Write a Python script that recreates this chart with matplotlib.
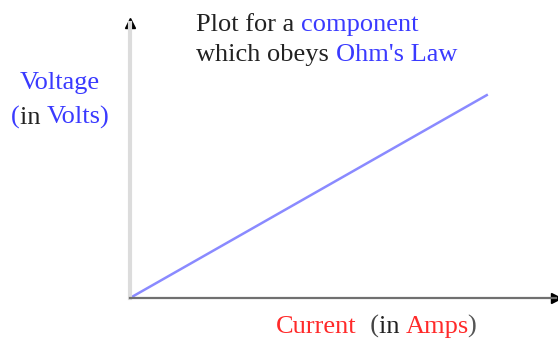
import matplotlib
matplotlib.use("Agg")
import matplotlib.pyplot as plt

# Data (arbitrary units: current vs voltage, straight line through origin)
current = [0.0, 8.4]
voltage = [0.0, 7.4]

title_line1 = [("Plot for a ", "#222222"), ("component", "#3a3aff")]
title_line2 = [("which obeys ", "#222222"), ("Ohm's Law", "#3a3aff")]
ylabel_line1 = [("Voltage", "#3a3aff")]
ylabel_line2 = [("(", "#3a3aff"), ("in ", "#222222"), ("Volts)", "#3a3aff")]
xlabel_parts = [("Current", "#ff2a2a"), ("  (", "#444444"), ("in ", "#222222"),
                ("Amps", "#ff2a2a"), (")", "#555555")]

W, H = 558, 340
fig = plt.figure(figsize=(W / 100, H / 100), dpi=100)
fig.patch.set_facecolor("white")

# axes placed in pixel geometry
x0, x1 = 130, 556
ytop, ybot = 23, 298
ax = fig.add_axes([x0 / W, 1 - ybot / H, (x1 - x0) / W, (ybot - ytop) / H])
ax.set_xlim(0, 10)
ax.set_ylim(0, 10)
ax.set_xticks([])
ax.set_yticks([])
for s in ["top", "right"]:
    ax.spines[s].set_visible(False)
ax.spines["left"].set_color("#dcdcdc")
ax.spines["left"].set_linewidth(3)
ax.spines["bottom"].set_color("#707070")
ax.spines["bottom"].set_linewidth(1.6)
ax.patch.set_alpha(0)

ax.plot(current, voltage, color="#8a8aff", lw=1.8, solid_capstyle="butt")

# arrow heads
ax.plot([0], [1], marker="^", color="black", markersize=7, transform=ax.transAxes,
        clip_on=False)
ax.plot([1], [0], marker=">", color="black", markersize=7, transform=ax.transAxes,
        clip_on=False)

FONT = "Liberation Serif"
FS = 19

fig.canvas.draw()
renderer = fig.canvas.get_renderer()


def text_width(s):
    t = fig.text(0, 0, s, fontsize=FS, family=FONT)
    w = t.get_window_extent(renderer).width
    t.remove()
    return w


def place(parts, x, y, align="left"):
    """Place colored text pieces starting at pixel x with baseline y (from top)."""
    full = "".join(p for p, _ in parts)
    total = text_width(full + "X") - text_width("X")
    if align == "center":
        x = x - total / 2
    prefix = ""
    for s, c in parts:
        off = text_width(prefix + "X") - text_width("X") if prefix else 0
        fig.text((x + off) / W, 1 - y / H, s, fontsize=FS, family=FONT, color=c,
                 va="baseline", ha="left")
        prefix += s


place(title_line1, 196, 31)
place(title_line2, 196, 61)
place(ylabel_line1, 60, 89, align="center")
place(ylabel_line2, 60, 124, align="center")
place(xlabel_parts, 276, 333)

fig.savefig("out.png", dpi=100, facecolor="white")
